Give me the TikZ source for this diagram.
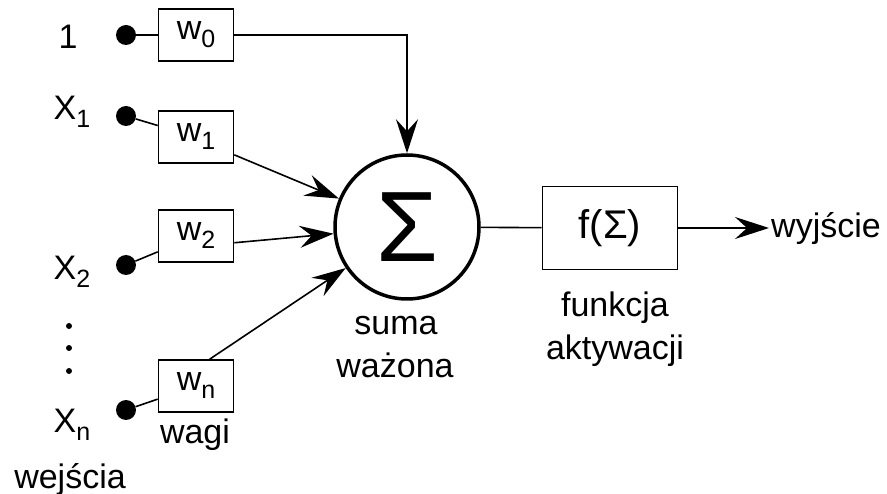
\documentclass[tikz,border=0pt]{standalone}
\usepackage{fontspec}
\setmainfont{Liberation Sans}
\usetikzlibrary{arrows.meta}
\newcommand{\lowidx}[1]{\raisebox{-8pt}{\fontsize{25}{25}\selectfont #1}}

\begin{document}
\begin{tikzpicture}[x=1pt,y=-1pt]

	\tikzset{
	  input/.style={circle,fill=black,inner sep=0pt,minimum size=20pt},
	  smalldot/.style={circle,fill=black,inner sep=0pt,minimum size=6pt},
	  weight/.style={draw,line width=1.6pt,minimum width=75pt,minimum height=52pt,inner sep=0pt,
	    font=\fontsize{34}{34}\selectfont},
	  lbl/.style={inner sep=2pt,align=center,font=\fontsize{34}{42}\selectfont},
	  wire/.style={line width=1.6pt},
	  arr/.style={wire,-{Stealth[length=34pt,width=22pt,inset=12pt]}},
	}
	\useasboundingbox (0,0) rectangle (887,494);

	% inputs
	\node[lbl,anchor=base] (one) at (68,49) {1};
	\node[lbl,anchor=base] (x1) at (72,120) {X\lowidx{1}};
	\node[lbl,anchor=base] (x2) at (72,280) {X\lowidx{2}};
	\node[lbl,anchor=base] (xn) at (72,433) {X\lowidx{n}};
	\node[lbl,anchor=base] (inputs) at (70,488) {wejścia};
	\node[input] (d0) at (126,35) {};
	\node[input] (d1) at (126,116) {};
	\node[input] (d2) at (126,265) {};
	\node[input] (dn) at (126,410) {};
	\node[smalldot] (v1) at (69,326) {};
	\node[smalldot] (v2) at (69,348) {};
	\node[smalldot] (v3) at (69,371) {};

	% weights
	\node[weight] (w0) at (196,35) {w\lowidx{0}};
	\node[weight] (w1) at (196,137) {w\lowidx{1}};
	\node[weight] (w2) at (196,236) {w\lowidx{2}};
	\node[weight] (wn) at (196,386) {w\lowidx{n}};
	\node[lbl,anchor=base] (weights) at (195,443) {wagi};

	% sum and activation
	\node[circle,draw,line width=3.5pt,minimum size=144pt,inner sep=0pt,
	  font=\fontsize{100}{100}\selectfont] (sum) at (407,227) {Σ};
	\node[lbl,anchor=base] (sumlbl) at (396,335) {suma};
	\node[lbl,anchor=base] (sumlbl2) at (395,378) {ważona};
	\node[draw,line width=1.6pt,minimum width=135pt,minimum height=83pt,inner sep=0pt,
	  font=\fontsize{40}{40}\selectfont] (f) at (610,228) {f(Σ)};
	\node[lbl,anchor=base] (actlbl) at (615,317) {funkcja};
	\node[lbl,anchor=base] (actlbl2) at (615,360) {aktywacji};
	\node[lbl,anchor=base west] (out) at (769,238) {wyjście};

	% connections
	\draw[wire] (d0) -- (w0);
	\draw[wire] (d1) -- (w1);
	\draw[wire] (d2) -- (w2);
	\draw[wire] (dn) -- (wn);
	\draw[arr] (w0) -| (sum);
	\draw[arr] (w1.-25) -- (sum);
	\draw[arr] (w2.-10) -- (sum);
	\draw[arr] (wn.63) -- (sum);
	\draw[wire] (sum) -- (f);
	\draw[arr] (f.east) -- (f.east -| out.west);

\end{tikzpicture}
\end{document}
